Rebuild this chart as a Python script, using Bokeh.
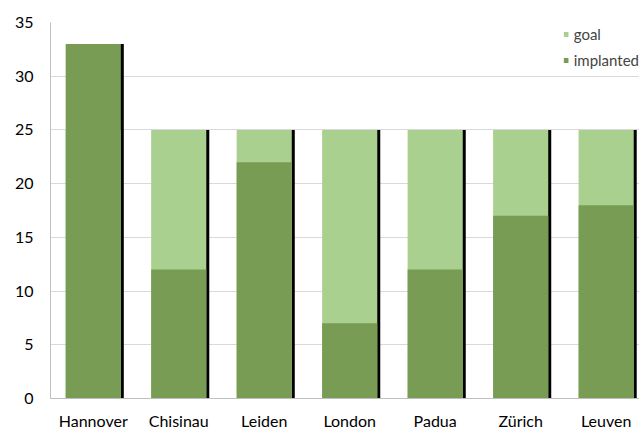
from bokeh.plotting import figure
from bokeh.models import ColumnDataSource, Range1d, FixedTicker, Legend, LegendItem
from bokeh.transform import dodge
from bokeh.embed import file_html
from bokeh.resources import INLINE

cities = ["Hannover", "Chisinau", "Leiden", "London", "Padua", "Zürich", "Leuven"]
goal = [25, 25, 25, 25, 25, 25, 25]
implanted = [33, 12, 22, 7, 12, 17, 18]

FONT = "Lato"
idx = list(range(len(cities)))
total = [max(g, i) for g, i in zip(goal, implanted)]
src = ColumnDataSource(dict(x=idx, goal=goal, implanted=implanted, total=total))

p = figure(width=639, height=432, output_backend="svg", toolbar_location=None,
           x_range=Range1d(-0.5, 6.39), y_range=Range1d(0, 35),
           min_border_left=50, min_border_right=0, min_border_top=22, min_border_bottom=32)
p.outline_line_color = None
p.background_fill_color = "white"

w = 0.645
p.vbar(x=dodge("x", 0.035), top="total", bottom=0, width=w, source=src,
       fill_color="black", line_color=None)
rg = p.vbar(x="x", top="goal", width=w, source=src, fill_color="#a9d08e", line_color=None)
ri = p.vbar(x="x", top="implanted", width=w, source=src, fill_color="#789c54", line_color=None)

p.xaxis.ticker = FixedTicker(ticks=idx)
p.xaxis.major_label_overrides = {i: c for i, c in zip(idx, cities)}
p.yaxis.ticker = FixedTicker(ticks=[0, 5, 10, 15, 20, 25, 30, 35])

for ax in (p.xaxis[0], p.yaxis[0]):
    ax.major_tick_line_color = None
    ax.minor_tick_line_color = None
    ax.major_tick_out = 0
    ax.major_tick_in = 0
    ax.minor_tick_out = 0
    ax.minor_tick_in = 0
    ax.axis_line_color = "#bfbfbf"
    ax.major_label_text_font = FONT
    ax.major_label_text_font_size = "16px"
    ax.major_label_text_color = "black"
p.xaxis.major_label_standoff = 12
p.yaxis.major_label_standoff = 17

p.xgrid.grid_line_color = None
p.ygrid.grid_line_color = "#d9d9d9"
p.ygrid.grid_line_width = 1

legend = Legend(items=[LegendItem(label="goal", renderers=[rg]),
                       LegendItem(label="implanted", renderers=[ri])],
                location="top_right")
legend.glyph_width = 6
legend.glyph_height = 6
legend.label_text_font = FONT
legend.label_text_font_size = "15px"
legend.label_standoff = 5
legend.label_height = 24
legend.spacing = 2
legend.padding = 1
legend.margin = 0
legend.border_line_color = None
legend.background_fill_alpha = 0.0
p.add_layout(legend)

open("out.html", "w").write(file_html(p, INLINE))
